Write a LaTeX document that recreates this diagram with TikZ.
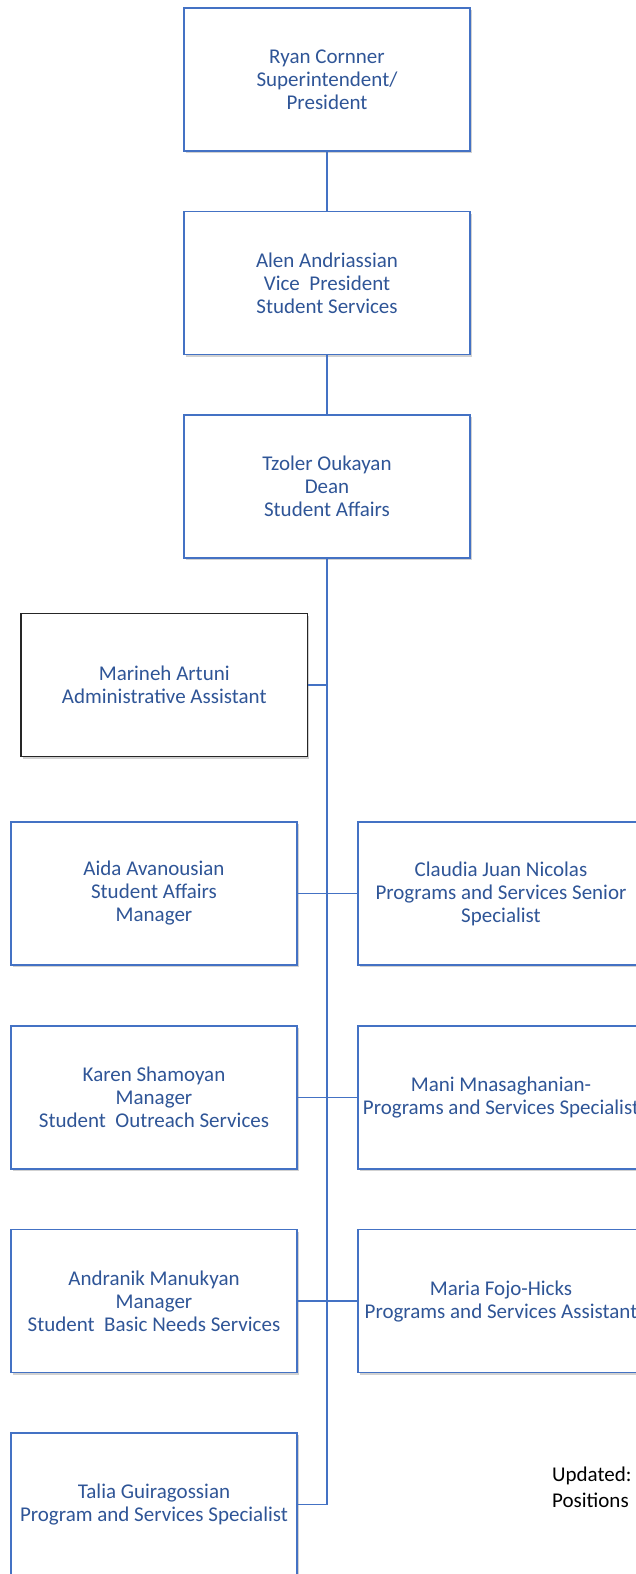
\documentclass[tikz,border=0pt]{standalone}
\usepackage{fontspec}
\setmainfont{Carlito}
\usetikzlibrary{shadows}
\definecolor{boxblue}{HTML}{4472C4}
\definecolor{txtblue}{HTML}{2F5597}
\newcommand\orgfont{\fontsize{21}{23}\selectfont}
\tikzset{
  orgbox/.style={draw=boxblue, line width=1.3pt, fill=white, rectangle,
    minimum width=286pt, minimum height=143pt, inner sep=0pt, align=center,
    font=\orgfont, text=txtblue,
    drop shadow={shadow xshift=1.5pt, shadow yshift=-2pt, opacity=0.18, fill=black}},
  blackbox/.style={orgbox, draw=black!85, line width=1.5pt},
  thinlink/.style={draw=boxblue, line width=1.4pt},
  trunk/.style={draw=boxblue, line width=2.6pt},
  note/.style={anchor=base west, inner sep=0pt, font=\fontsize{21}{26}\selectfont, text=black}
}
\begin{document}
\begin{tikzpicture}[x=1pt,y=-1pt]
\useasboundingbox (0,0) rectangle (636,1574);
\fill[white] (0,0) rectangle (636,1574);
\clip (0,0) rectangle (636,1574);

\node[orgbox] (ryan) at (327,79.5) {Ryan Cornner\\Superintendent/\\President};
\node[orgbox] (alen) at (327,283) {Alen Andriassian\\Vice\ \ President\\Student Services};
\node[orgbox] (tzoler) at (327,486.5) {Tzoler Oukayan\\Dean\\Student Affairs};

\node[blackbox, minimum width=286.5pt] (marineh) at (164.25,685) {Marineh Artuni\\Administrative Assistant};

\node[orgbox] (aida) at (154,893.5) {Aida Avanousian\\Student Affairs\\Manager};
\node[orgbox] (claudia) at (501,893.5) {Claudia Juan Nicolas\\Programs and Services Senior\\Specialist};

\node[orgbox] (karen) at (154,1097.5) {Karen Shamoyan\\Manager\\Student\ \ Outreach Services};
\node[orgbox] (mani) at (501,1097.5) {Mani Mnasaghanian-\\Programs and Services Specialist};

\node[orgbox] (andranik) at (154,1301) {Andranik Manukyan\\Manager\\Student\ \ Basic Needs Services};
\node[orgbox] (maria) at (501,1301) {Maria Fojo-Hicks\\Programs and Services Assistant};

\node[orgbox] (talia) at (154,1504.5) {Talia Guiragossian\\Program and Services Specialist};

\node[note] (upd1) at (552,1481) {Updated:};
\node[note] (upd2) at (552,1507) {Positions};

% connectors
\draw[thinlink] (ryan.south) -- (alen.north);
\draw[thinlink] (alen.south) -- (tzoler.north);
\coordinate (tmid) at (andranik.east -| tzoler.south);
\coordinate (tbot) at (talia.east -| tzoler.south);
\draw[trunk] (tzoler.south) -- (tmid);
\draw[thinlink] (tmid) -- (tbot);
\draw[thinlink] (marineh.east) -- (marineh.east -| tzoler.south);
\draw[thinlink] (aida.east) -- (claudia.west);
\draw[thinlink] (karen.east) -- (mani.west);
\draw[thinlink] (andranik.east) -- (maria.west);
\draw[thinlink] (talia.east) -- (tbot);
\end{tikzpicture}
\end{document}
